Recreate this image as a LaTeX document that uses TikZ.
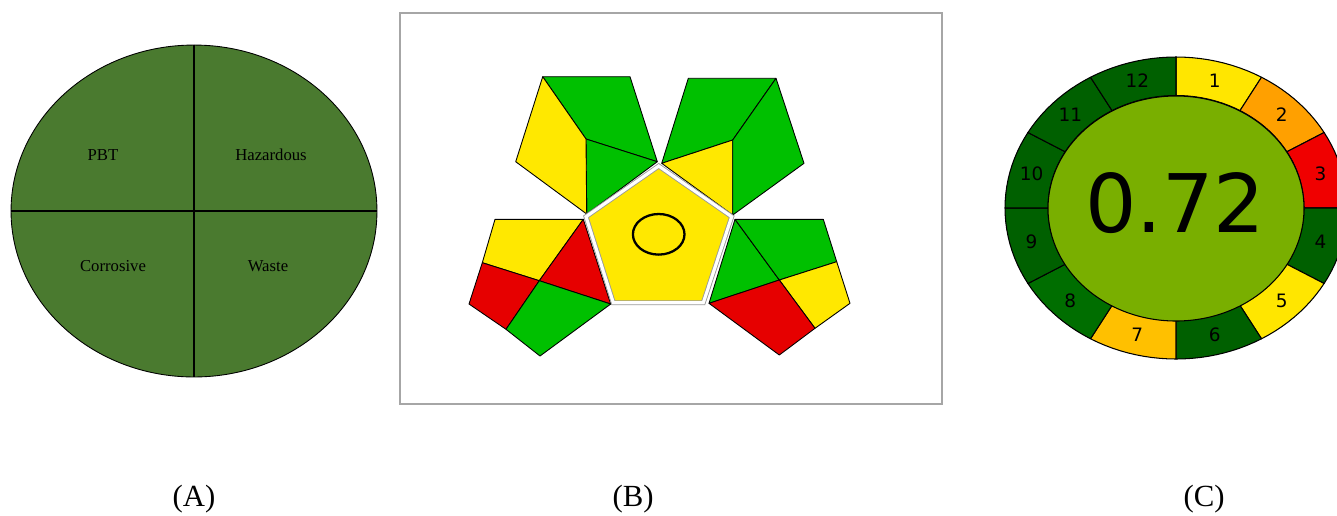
\documentclass[tikz,border=0pt]{standalone}
\usepackage{fontspec}
\setmainfont{Liberation Serif}
\newfontfamily\dejavu{DejaVu Sans}
\usetikzlibrary{shapes.geometric}
\definecolor{pbtgreen}{HTML}{4A7A2F}
\definecolor{gapigreen}{HTML}{00C000}
\definecolor{gapiyellow}{HTML}{FFE800}
\definecolor{gapired}{HTML}{E60000}
\definecolor{ringdark}{HTML}{006000}
\definecolor{ringmid}{HTML}{006E00}
\definecolor{ringyellow}{HTML}{FFE600}
\definecolor{ringorange}{HTML}{FFA000}
\definecolor{ringred}{HTML}{F00000}
\definecolor{ringamber}{HTML}{FFC000}
\definecolor{ringcore}{HTML}{79AF00}
\tikzset{
  gapi/.style={draw=black,line width=0.5pt,line join=round},
  pielabel/.style={font=\fontsize{9.5}{11}\selectfont},
  panel/.style={font=\fontsize{17.5}{21}\selectfont}
}

\begin{document}
\begin{tikzpicture}[x=0.02cm,y=-0.02cm]
\useasboundingbox (0,0) rectangle (1337,515);
% (A) pie of four quarters
\node[ellipse,draw,fill=pbtgreen,line width=0.5pt,inner sep=0,
  minimum width=7.32cm,minimum height=6.64cm] (pie) at (194,211) {};
\draw[line width=0.6pt] (pie.north) -- (pie.south);
\draw[line width=0.6pt] (pie.west) -- (pie.east);
\node[pielabel] (pbt) at (103,155) {PBT};
\node[pielabel] (haz) at (271,155) {Hazardous};
\node[pielabel] (cor) at (113,266) {Corrosive};
\node[pielabel] (waste) at (268,266) {Waste};
% (B) frame
\draw[gray!70,line width=0.7pt] (400,13) rectangle (942,404);
% top left pentagon
\filldraw[gapi,fill=gapigreen] (542.7,76.7) -- (630,76.7) -- (657.3,161.7) -- (586,139) -- cycle;
\filldraw[gapi,fill=gapigreen] (586,139) -- (657.3,161.7) -- (586.7,214) -- cycle;
\filldraw[gapi,fill=gapiyellow] (542.7,76.7) -- (586,139) -- (586.7,214) -- (515.7,161.7) -- cycle;
% top right pentagon
\filldraw[gapi,fill=gapigreen] (688.3,78.3) -- (776,78.3) -- (732.7,140) -- (661.7,163.3) -- cycle;
\filldraw[gapi,fill=gapiyellow] (661.7,163.3) -- (732.7,140) -- (732.7,215) -- cycle;
\filldraw[gapi,fill=gapigreen] (776,78.3) -- (804,163.3) -- (732.7,215) -- (732.7,140) -- cycle;
% bottom left pentagon
\filldraw[gapi,fill=gapiyellow] (495,219.3) -- (583.3,219.3) -- (539.3,280.7) -- (482.3,262.7) -- cycle;
\filldraw[gapi,fill=gapired] (583.3,219.3) -- (610.7,304) -- (539.3,280.7) -- cycle;
\filldraw[gapi,fill=gapired] (482.3,262.7) -- (539.3,280.7) -- (506,329.3) -- (469,304) -- cycle;
\filldraw[gapi,fill=gapigreen] (539.3,280.7) -- (610.7,304) -- (540,356) -- (506,329.3) -- cycle;
% bottom right pentagon
\filldraw[gapi,fill=gapigreen] (735,219.3) -- (779.3,280) -- (709,303.3) -- cycle;
\filldraw[gapi,fill=gapigreen] (735,219.3) -- (823.3,219.3) -- (836.7,261.7) -- (779.3,280) -- cycle;
\filldraw[gapi,fill=gapiyellow] (779.3,280) -- (836.7,261.7) -- (850,303.3) -- (815,328.3) -- cycle;
\filldraw[gapi,fill=gapired] (709,303.3) -- (779.3,280) -- (815,328.3) -- (779.3,355) -- cycle;
% centre pentagon
\filldraw[fill=gapiyellow,draw=gray!80,line width=0.5pt,double=white,double distance=1.8pt,line join=miter]
  (658.7,166) -- (731.7,216.7) -- (703.3,302.7) -- (613.3,302.7) -- (586,216.7) -- cycle;
\draw[line width=1.3pt] (658.7,234.3) ellipse [x radius=25.8,y radius=20.3];
% (C) ring of twelve
\foreach \k/\c in {1/ringyellow,2/ringorange,3/ringred,4/ringdark,5/ringyellow,6/ringdark,
  7/ringamber,8/ringmid,9/ringdark,10/ringdark,11/ringdark,12/ringdark} {
  \pgfmathsetmacro\a{120-30*\k}
  \pgfmathsetmacro\b{90-30*\k}
  \pgfmathsetmacro\m{105-30*\k}
  \filldraw[fill=\c,line width=0.6pt,line join=round]
    plot[domain=\a:\b,samples=12] ({1176+171*cos(\x)},{208-151*sin(\x)})
    -- plot[domain=\b:\a,samples=12] ({1176+128*cos(\x)},{208-112.5*sin(\x)}) -- cycle;
  \node[font=\dejavu\fontsize{10.5}{12}\selectfont] (seg\k) at ({1176+149.5*cos(\m)},{208-131.75*sin(\m)}) {\k};
}
\filldraw[fill=ringcore,line width=0.6pt] (1176,208.5) ellipse [x radius=128,y radius=112.5];
\node[font=\dejavu\fontsize{46}{50}\selectfont] (score) at (1175,203) {0.72};
% panel letters
\node[panel] (capA) at (194,499) {(A)};
\node[panel] (capB) at (633,499) {(B)};
\node[panel] (capC) at (1204,499) {(C)};
\end{tikzpicture}
\end{document}
